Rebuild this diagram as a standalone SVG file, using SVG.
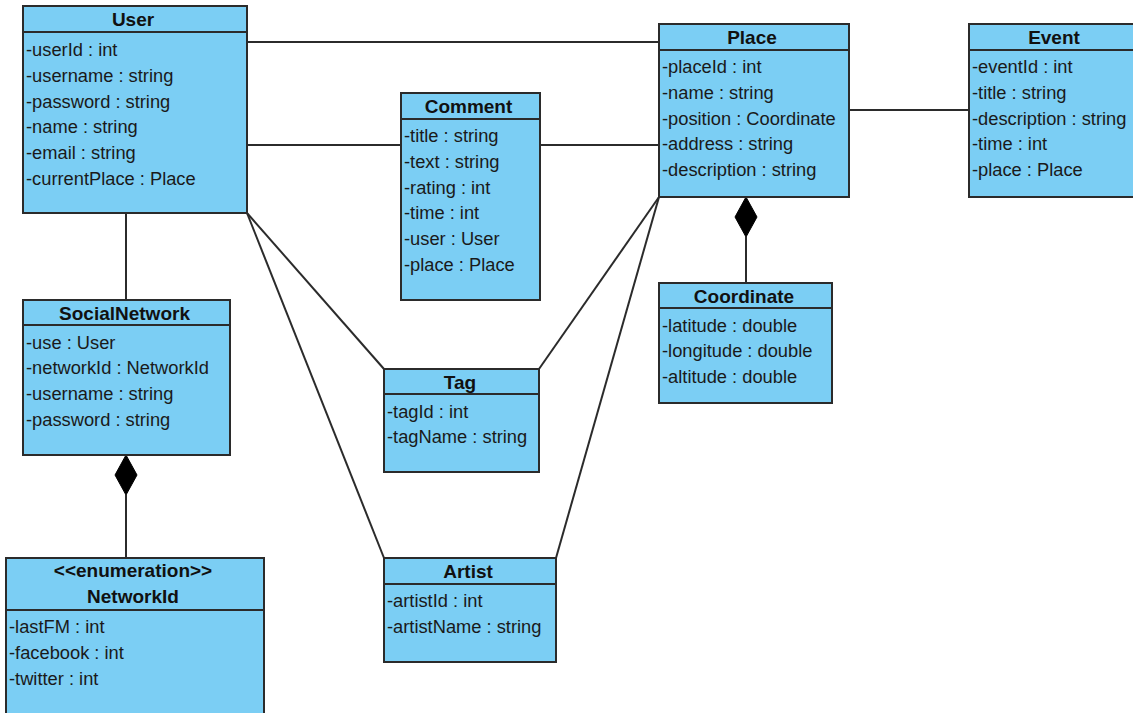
<svg xmlns="http://www.w3.org/2000/svg" width="1133" height="713" viewBox="0 0 1133 713">
  <style>
    .box { fill: #7bcef4; stroke: #2b2b2b; stroke-width: 2; }
    .sep { stroke: #2b2b2b; stroke-width: 2; }
    .title { font-family: "Liberation Sans", Arial, sans-serif; font-weight: bold; font-size: 19px; fill: #111; text-anchor: middle; }
    .attr { font-family: "Liberation Sans", Arial, sans-serif; font-size: 18.3px; fill: #1a1a1a; }
    .link { stroke: #2b2b2b; stroke-width: 2; fill: none; }
    .diamond { fill: #000; stroke: #000; stroke-width: 1; }
  </style>
  <rect width="1133" height="713" fill="#ffffff"/>

  <!-- associations -->
  <g id="connectors">
    <line class="link" x1="247" y1="42" x2="659" y2="42"/>
    <line class="link" x1="247" y1="145" x2="401" y2="145"/>
    <line class="link" x1="540" y1="145" x2="659" y2="145"/>
    <line class="link" x1="849" y1="110" x2="969" y2="110"/>
    <line class="link" x1="247" y1="213" x2="384" y2="369"/>
    <line class="link" x1="247" y1="213" x2="384" y2="558"/>
    <line class="link" x1="659" y1="197" x2="539" y2="369"/>
    <line class="link" x1="659" y1="197" x2="556" y2="558"/>
    <line class="link" x1="126" y1="213" x2="126" y2="300"/>
    <!-- composition: Place owns Coordinate -->
    <line class="link" x1="746" y1="237" x2="746" y2="283"/>
    <polygon class="diamond" points="746,197 757,217 746,237 735,217"/>
    <!-- composition: SocialNetwork owns NetworkId -->
    <line class="link" x1="126" y1="495" x2="126" y2="558"/>
    <polygon class="diamond" points="126,455 137,475 126,495 115,475"/>
  </g>

  <g id="User">
    <rect class="box" x="23" y="6" width="224" height="207"/>
    <line class="sep" x1="23" y1="32" x2="247" y2="32"/>
    <text class="title" x="133" y="26">User</text>
    <text class="attr" x="26" y="56">-userId : int</text>
    <text class="attr" x="26" y="81.8">-username : string</text>
    <text class="attr" x="26" y="107.6">-password : string</text>
    <text class="attr" x="26" y="133.4">-name : string</text>
    <text class="attr" x="26" y="159.2">-email : string</text>
    <text class="attr" x="26" y="185">-currentPlace : Place</text>
  </g>

  <g id="Place">
    <rect class="box" x="659" y="24" width="190" height="173"/>
    <line class="sep" x1="659" y1="50" x2="849" y2="50"/>
    <text class="title" x="752" y="44">Place</text>
    <text class="attr" x="662" y="73">-placeId : int</text>
    <text class="attr" x="662" y="98.8">-name : string</text>
    <text class="attr" x="662" y="124.6">-position : Coordinate</text>
    <text class="attr" x="662" y="150.4">-address : string</text>
    <text class="attr" x="662" y="176.2">-description : string</text>
  </g>

  <g id="Event">
    <rect class="box" x="969" y="24" width="170" height="173"/>
    <line class="sep" x1="969" y1="50" x2="1139" y2="50"/>
    <text class="title" x="1054" y="44">Event</text>
    <text class="attr" x="972" y="73">-eventId : int</text>
    <text class="attr" x="972" y="98.8">-title : string</text>
    <text class="attr" x="972" y="124.6">-description : string</text>
    <text class="attr" x="972" y="150.4">-time : int</text>
    <text class="attr" x="972" y="176.2">-place : Place</text>
  </g>

  <g id="Comment">
    <rect class="box" x="401" y="93" width="139" height="207"/>
    <line class="sep" x1="401" y1="119" x2="540" y2="119"/>
    <text class="title" x="468.5" y="113">Comment</text>
    <text class="attr" x="404" y="142">-title : string</text>
    <text class="attr" x="404" y="167.8">-text : string</text>
    <text class="attr" x="404" y="193.6">-rating : int</text>
    <text class="attr" x="404" y="219.4">-time : int</text>
    <text class="attr" x="404" y="245.2">-user : User</text>
    <text class="attr" x="404" y="271">-place : Place</text>
  </g>

  <g id="SocialNetwork">
    <rect class="box" x="23" y="300" width="207" height="155"/>
    <line class="sep" x1="23" y1="325" x2="230" y2="325"/>
    <text class="title" x="124.5" y="320">SocialNetwork</text>
    <text class="attr" x="26" y="348.5">-use : User</text>
    <text class="attr" x="26" y="374.3">-networkId : NetworkId</text>
    <text class="attr" x="26" y="400.1">-username : string</text>
    <text class="attr" x="26" y="425.9">-password : string</text>
  </g>

  <g id="NetworkId">
    <rect class="box" x="6" y="558" width="258" height="170"/>
    <line class="sep" x1="6" y1="610" x2="264" y2="610"/>
    <text class="title" x="133" y="577">&lt;&lt;enumeration&gt;&gt;</text>
    <text class="title" x="133" y="603">NetworkId</text>
    <text class="attr" x="9" y="633">-lastFM : int</text>
    <text class="attr" x="9" y="658.8">-facebook : int</text>
    <text class="attr" x="9" y="684.6">-twitter : int</text>
  </g>

  <g id="Coordinate">
    <rect class="box" x="659" y="283" width="173" height="120"/>
    <line class="sep" x1="659" y1="308" x2="832" y2="308"/>
    <text class="title" x="744" y="303">Coordinate</text>
    <text class="attr" x="662" y="331.5">-latitude : double</text>
    <text class="attr" x="662" y="357.3">-longitude : double</text>
    <text class="attr" x="662" y="383.1">-altitude : double</text>
  </g>

  <g id="Tag">
    <rect class="box" x="384" y="369" width="155" height="103"/>
    <line class="sep" x1="384" y1="394" x2="539" y2="394"/>
    <text class="title" x="460" y="389">Tag</text>
    <text class="attr" x="387" y="417.5">-tagId : int</text>
    <text class="attr" x="387" y="443.3">-tagName : string</text>
  </g>

  <g id="Artist">
    <rect class="box" x="384" y="558" width="172" height="104"/>
    <line class="sep" x1="384" y1="584" x2="556" y2="584"/>
    <text class="title" x="468" y="578">Artist</text>
    <text class="attr" x="387" y="607">-artistId : int</text>
    <text class="attr" x="387" y="632.8">-artistName : string</text>
  </g>
</svg>
